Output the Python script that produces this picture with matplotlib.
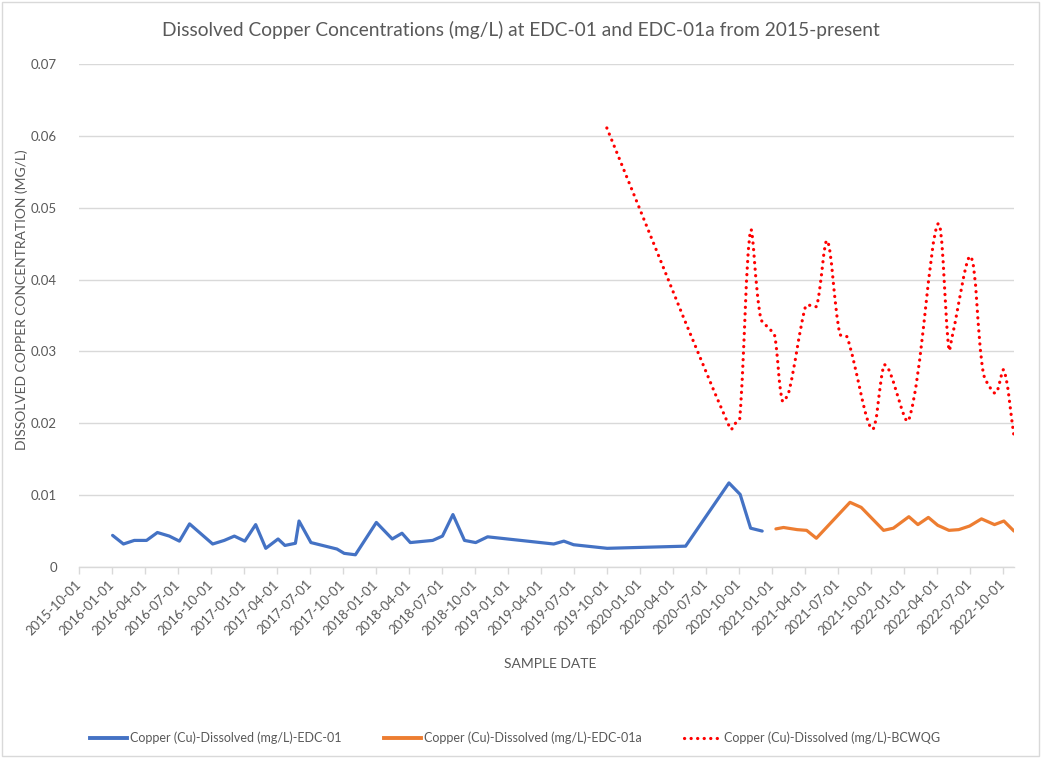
import matplotlib
matplotlib.use("Agg")
import matplotlib.pyplot as plt
import matplotlib.dates as mdates
from matplotlib.path import Path
from matplotlib.patches import PathPatch, Rectangle
from matplotlib.lines import Line2D
import numpy as np
import pandas as pd

plt.rcParams['font.family'] = ['Lato', 'DejaVu Sans']

# ---------------- data ----------------
edc01_dates = ["2016-01-02", "2016-02-01", "2016-03-02", "2016-04-05", "2016-05-05", "2016-06-07",
               "2016-07-05", "2016-08-02", "2016-10-05", "2016-11-06", "2016-12-04", "2017-01-02",
               "2017-02-01", "2017-03-01", "2017-04-04", "2017-04-23", "2017-05-22", "2017-06-01",
               "2017-07-04", "2017-09-14", "2017-10-04", "2017-11-04", "2018-01-01", "2018-02-14",
               "2018-03-13", "2018-04-05", "2018-06-06", "2018-07-03", "2018-08-01", "2018-09-02",
               "2018-10-03", "2018-11-05", "2019-05-07", "2019-06-04", "2019-07-01", "2019-10-02",
               "2020-05-06", "2020-09-03", "2020-10-04", "2020-11-02", "2020-12-04"]
edc01_vals = [0.0044, 0.0032, 0.0037, 0.0037, 0.0048, 0.0043,
              0.0036, 0.0060, 0.0032, 0.0037, 0.0043, 0.0036,
              0.0059, 0.0026, 0.0039, 0.0030, 0.0033, 0.0064,
              0.0034, 0.0025, 0.0019, 0.0017, 0.0062, 0.0039,
              0.0047, 0.0034, 0.0037, 0.0043, 0.0073, 0.0037,
              0.0034, 0.0042, 0.0032, 0.0036, 0.0031, 0.0026,
              0.0029, 0.0117, 0.0101, 0.0054, 0.0050]

edc01a_dates = ["2021-01-11", "2021-02-01", "2021-03-11", "2021-04-06", "2021-05-03", "2021-08-04",
                "2021-09-04", "2021-11-05", "2021-12-02", "2022-01-14", "2022-02-08", "2022-03-09",
                "2022-04-04", "2022-05-05", "2022-06-01", "2022-07-01", "2022-08-03", "2022-09-08",
                "2022-10-04", "2022-11-01"]
edc01a_vals = [0.0053, 0.0055, 0.0052, 0.0051, 0.0040, 0.0090,
               0.0083, 0.0051, 0.0054, 0.0070, 0.0059, 0.0069,
               0.0058, 0.0051, 0.0052, 0.0057, 0.0067, 0.0059,
               0.0064, 0.0050]

bcwqg_dates = ["2019-10-01", "2020-09-07", "2020-09-21", "2020-10-03", "2020-11-02", "2020-11-30",
               "2020-12-27", "2021-01-08", "2021-01-29", "2021-02-16", "2021-04-03", "2021-04-19",
               "2021-05-04", "2021-06-02", "2021-07-07", "2021-07-27", "2021-10-04", "2021-11-06",
               "2021-11-20", "2022-01-14", "2022-04-04", "2022-05-05", "2022-05-14", "2022-07-04",
               "2022-08-08", "2022-09-05", "2022-09-14", "2022-10-04", "2022-11-01"]
bcwqg_vals = [0.0611, 0.0192, 0.0200, 0.0207, 0.0468, 0.0346,
              0.0330, 0.0321, 0.0231, 0.0244, 0.0363, 0.0364,
              0.0363, 0.0454, 0.0324, 0.0320, 0.0192, 0.0281,
              0.0274, 0.0205, 0.0477, 0.0302, 0.0321, 0.0432,
              0.0270, 0.0243, 0.0243, 0.0274, 0.0182]

tick_labels = ["2015-10-01", "2016-01-01", "2016-04-01", "2016-07-01", "2016-10-01",
               "2017-01-01", "2017-04-01", "2017-07-01", "2017-10-01",
               "2018-01-01", "2018-04-01", "2018-07-01", "2018-10-01",
               "2019-01-01", "2019-04-01", "2019-07-01", "2019-10-01",
               "2020-01-01", "2020-04-01", "2020-07-01", "2020-10-01",
               "2021-01-01", "2021-04-01", "2021-07-01", "2021-10-01",
               "2022-01-01", "2022-04-01", "2022-07-01", "2022-10-01"]

title = "Dissolved Copper Concentrations (mg/L) at EDC-01 and EDC-01a from 2015-present"
names = ["Copper (Cu)-Dissolved (mg/L)-EDC-01", "Copper (Cu)-Dissolved (mg/L)-EDC-01a",
         "Copper (Cu)-Dissolved (mg/L)-BCWQG"]

BLUE = "#4472C4"
ORANGE = "#ED7D31"
RED = "#FF0000"
GRAY_TXT = "#595959"
GRID = "#D9D9D9"

# ---------------- figure ----------------
W, H = 1041, 758
fig = plt.figure(figsize=(W / 100, H / 100), dpi=100)
fig.patch.set_facecolor("white")
fig.add_artist(Rectangle((0.002, 0.002), 0.996, 0.996, transform=fig.transFigure,
                         fill=False, edgecolor=GRID, linewidth=1.0))

L, R, T, B = 79, 1014, 64, 567
ax = fig.add_axes([L / W, 1 - B / H, (R - L) / W, (B - T) / H])

def to_num(ds):
    return mdates.date2num(pd.to_datetime(ds))

x1 = to_num(edc01_dates)
x2 = to_num(edc01a_dates)
x3 = to_num(bcwqg_dates)

ax.plot(x1, edc01_vals, color=BLUE, lw=2.3, solid_capstyle='round', solid_joinstyle='round', zorder=3)
ax.plot(x2, edc01a_vals, color=ORANGE, lw=2.3, solid_capstyle='round', solid_joinstyle='round', zorder=3)

ax.set_xlim(to_num(["2015-10-01"])[0], x2[-1])
ax.set_ylim(0, 0.07)


# smoothed dotted line (Excel-like "smoothed line" rendering with cubic Bezier segments,
# tangents weighted by chord length in screen space to avoid overshoot)
def smooth_path(xs, ys):
    P = np.column_stack([xs, ys]).astype(float)
    S = ax.transData.transform(P)
    n = len(P)
    verts = [P[0]]
    codes = [Path.MOVETO]

    def d(a, b):
        return np.hypot(*(S[b] - S[a]))

    for i in range(n - 1):
        i0 = max(i - 1, 0)
        i3 = min(i + 2, n - 1)
        p0, p1, p2, p3 = P[i0], P[i], P[i + 1], P[i3]
        d01 = d(i0, i)
        d12 = d(i, i + 1)
        d23 = d(i + 1, i3)
        w1 = d12 / (d01 + d12) if (d01 + d12) > 0 else 0.5
        w2 = d12 / (d12 + d23) if (d12 + d23) > 0 else 0.5
        c1 = p1 + (p2 - p0) * w1 / 3.0
        c2 = p2 - (p3 - p1) * w2 / 3.0
        verts += [c1, c2, p2]
        codes += [Path.CURVE4] * 3
    return Path(np.array(verts), codes)


red_style = dict(color=RED, lw=2.3, linestyle=(0, (0.05, 2.0)), dash_capstyle='round')
patch = PathPatch(smooth_path(x3, bcwqg_vals), facecolor='none', edgecolor=RED,
                  lw=2.3, linestyle=(0, (0.05, 2.0)), capstyle='round', zorder=3)
ax.add_patch(patch)

ax.set_xticks(to_num(tick_labels))
ax.set_xticklabels(tick_labels, rotation=45, ha='right', va='center', rotation_mode='anchor')
ax.set_yticks([0, 0.01, 0.02, 0.03, 0.04, 0.05, 0.06, 0.07])
ax.set_yticklabels(["0", "0.01", "0.02", "0.03", "0.04", "0.05", "0.06", "0.07"])

ax.tick_params(axis='x', colors=GRID, labelcolor=GRAY_TXT, labelsize=9.5, length=5, width=1, pad=6)
ax.tick_params(axis='y', length=0, labelcolor=GRAY_TXT, labelsize=9.5, pad=16)

ax.grid(axis='y', color=GRID, lw=1.0)
ax.set_axisbelow(True)
for s in ['top', 'right', 'left']:
    ax.spines[s].set_visible(False)
ax.spines['bottom'].set_color(GRID)
ax.spines['bottom'].set_linewidth(1.0)

fig.text(521 / W, 1 - 30 / H, title, ha='center', va='center', fontsize=13.8, color=GRAY_TXT)
fig.text(550 / W, 1 - 664 / H, "SAMPLE DATE", ha='center', va='center', fontsize=10, color=GRAY_TXT)
fig.text(22 / W, 1 - 300 / H, "DISSOLVED COPPER CONCENTRATION (MG/L)", ha='center', va='center',
         rotation=90, fontsize=10, color=GRAY_TXT)

handles = [Line2D([], [], color=BLUE, lw=2.8),
           Line2D([], [], color=ORANGE, lw=2.8),
           Line2D([], [], **red_style)]
fig.legend(handles, names, loc='center', bbox_to_anchor=(515 / W, 1 - 738 / H), ncol=3, frameon=False,
           fontsize=9, labelcolor=GRAY_TXT, handlelength=3.0, handletextpad=0.2, columnspacing=3.4)

fig.savefig("out.png", dpi=100)
